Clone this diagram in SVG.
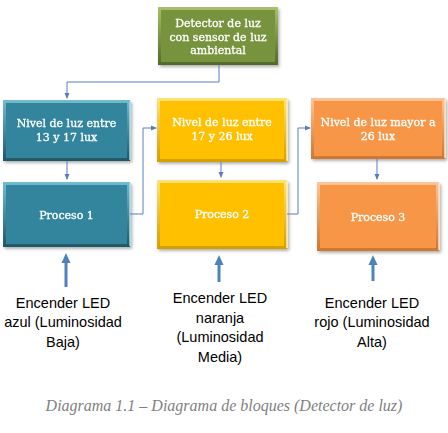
<svg xmlns="http://www.w3.org/2000/svg" width="448" height="433" viewBox="0 0 448 433">
  <defs>
    <!-- bevel bands: light top edge fading to a darker bottom edge -->
    <linearGradient id="bvGreen" x1="0" y1="0" x2="0" y2="1">
      <stop offset="0" stop-color="#a7c16c"/><stop offset="1" stop-color="#52692a"/>
    </linearGradient>
    <linearGradient id="bvBlue" x1="0" y1="0" x2="0" y2="1">
      <stop offset="0" stop-color="#72bccf"/><stop offset="1" stop-color="#1f5766"/>
    </linearGradient>
    <linearGradient id="bvYellow" x1="0" y1="0" x2="0" y2="1">
      <stop offset="0" stop-color="#ffe27a"/><stop offset="1" stop-color="#d39f00"/>
    </linearGradient>
    <linearGradient id="bvOrange" x1="0" y1="0" x2="0" y2="1">
      <stop offset="0" stop-color="#fcc598"/><stop offset="1" stop-color="#cf7530"/>
    </linearGradient>
    <filter id="shadow" x="-10%" y="-10%" width="125%" height="130%">
      <feDropShadow dx="1.5" dy="2" stdDeviation="1.4" flood-color="#000" flood-opacity="0.3"/>
    </filter>
    <marker id="tip" markerWidth="6" markerHeight="6" refX="5" refY="3" orient="auto" markerUnits="userSpaceOnUse">
      <path d="M0,0.5 L6,3 L0,5.5 z" fill="#5a7dbf"/>
    </marker>
  </defs>
  <style>
    .box-text{font-family:"DejaVu Serif",serif;font-size:11px;fill:#ffffff;stroke:#ffffff;stroke-width:0.3;text-anchor:middle}
    .label{font-family:"Liberation Sans",Arial,sans-serif;font-size:14.5px;fill:#000000;text-anchor:middle}
    .link{fill:none;stroke:#5a7dbf;stroke-width:1}
    .up{stroke:#4f81bd;stroke-width:3;fill:none}
    .up-head{fill:#4f81bd}
    .caption{font-family:"Liberation Serif",serif;font-style:italic;font-size:16px;fill:#7f7f7f;text-anchor:middle}
    .edge-hi{stroke-width:1.5;fill:none}
  </style>

  <g id="detector" filter="url(#shadow)">
    <rect x="158" y="7" width="120" height="58" fill="url(#bvGreen)"/>
    <rect x="161" y="10" width="114" height="52" fill="#77933c"/>
    <text class="box-text" x="218" y="27">Detector de luz</text>
    <text class="box-text" x="218" y="41">con sensor de luz</text>
    <text class="box-text" x="218" y="54">ambiental</text>
  </g>

  <g id="nivel1" filter="url(#shadow)">
    <rect x="3" y="100" width="127" height="61" fill="url(#bvBlue)"/>
    <rect x="6" y="103" width="121" height="55" fill="#31859c"/>
    <line class="edge-hi" x1="130" y1="101" x2="130" y2="160" stroke="#a9dde9"/>
    <text class="box-text" x="66.5" y="127">Nivel de luz entre</text>
    <text class="box-text" x="66.5" y="141">13 y 17 lux</text>
  </g>

  <g id="proceso1" filter="url(#shadow)">
    <rect x="3" y="182" width="127" height="65" fill="url(#bvBlue)"/>
    <rect x="6" y="185" width="121" height="59" fill="#31859c"/>
    <line class="edge-hi" x1="130" y1="183" x2="130" y2="246" stroke="#a9dde9"/>
    <text class="box-text" x="66.5" y="219">Proceso 1</text>
  </g>

  <g id="nivel2" filter="url(#shadow)">
    <rect x="157" y="98" width="130" height="64" fill="url(#bvYellow)"/>
    <rect x="160" y="101" width="124" height="58" fill="#ffc000"/>
    <line class="edge-hi" x1="287" y1="99" x2="287" y2="161" stroke="#fff0b0"/>
    <text class="box-text" x="222" y="126">Nivel de luz entre</text>
    <text class="box-text" x="222" y="140">17 y 26 lux</text>
  </g>

  <g id="proceso2" filter="url(#shadow)">
    <rect x="157" y="180" width="130" height="69" fill="url(#bvYellow)"/>
    <rect x="160" y="183" width="124" height="63" fill="#ffc000"/>
    <line class="edge-hi" x1="287" y1="181" x2="287" y2="248" stroke="#fff0b0"/>
    <text class="box-text" x="222" y="218">Proceso 2</text>
  </g>

  <g id="nivel3" filter="url(#shadow)">
    <rect x="311" y="98" width="134" height="61" fill="url(#bvOrange)"/>
    <rect x="314" y="101" width="128" height="55" fill="#f79646"/>
    <line class="edge-hi" x1="445" y1="99" x2="445" y2="158" stroke="#fde0c6"/>
    <text class="box-text" x="378" y="126">Nivel de luz mayor a</text>
    <text class="box-text" x="378" y="140">26 lux</text>
  </g>

  <g id="proceso3" filter="url(#shadow)">
    <rect x="317" y="182" width="122" height="69" fill="url(#bvOrange)"/>
    <rect x="320" y="185" width="116" height="63" fill="#f79646"/>
    <line class="edge-hi" x1="439" y1="183" x2="439" y2="250" stroke="#fde0c6"/>
    <text class="box-text" x="378" y="221">Proceso 3</text>
  </g>

  <g id="connectors">
    <path class="link" d="M219,65 V82 H67 V98" marker-end="url(#tip)"/>
    <path class="link" d="M67,161 V179" marker-end="url(#tip)"/>
    <path class="link" d="M130,214 H143 V128 H156" marker-end="url(#tip)"/>
    <path class="link" d="M221,162 V177" marker-end="url(#tip)"/>
    <path class="link" d="M287,214 H298 V128 H310" marker-end="url(#tip)"/>
    <path class="link" d="M377,159 V179" marker-end="url(#tip)"/>

    <line class="up" x1="66" y1="287" x2="66" y2="261"/>
    <polygon class="up-head" points="66,253 61.5,263 70.5,263"/>
    <line class="up" x1="219" y1="282" x2="219" y2="263"/>
    <polygon class="up-head" points="219,255 214.5,265 223.5,265"/>
    <line class="up" x1="373" y1="281" x2="373" y2="263"/>
    <polygon class="up-head" points="373,255 368.5,265 377.5,265"/>
  </g>

  <g id="labels">
    <text class="label" x="63" y="308">Encender LED</text>
    <text class="label" x="63" y="327">azul (Luminosidad</text>
    <text class="label" x="63" y="347">Baja)</text>

    <text class="label" x="220" y="303">Encender LED</text>
    <text class="label" x="220" y="323">naranja</text>
    <text class="label" x="220" y="342">(Luminosidad</text>
    <text class="label" x="220" y="362">Media)</text>

    <text class="label" x="372" y="308">Encender LED</text>
    <text class="label" x="372" y="327">rojo (Luminosidad</text>
    <text class="label" x="372" y="347">Alta)</text>
  </g>

  <text class="caption" x="224" y="411">Diagrama 1.1 – Diagrama de bloques (Detector de luz)</text>
</svg>
